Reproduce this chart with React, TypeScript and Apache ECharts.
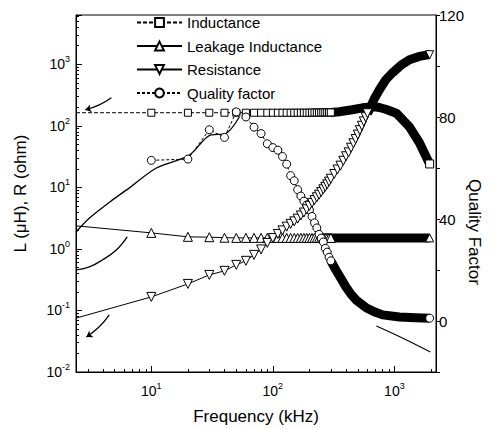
import React, { useEffect, useRef } from 'react';
import * as echarts from 'echarts';

const FONT = '"Liberation Sans", Arial, Helvetica, sans-serif';

// ---------- data (frequency in kHz) ----------
const markFreq = [2.4, 10, 20, 30, 40, 50, 60, 70, 80, 90, 100, 110, 120, 130, 140, 150, 160, 170, 180, 190, 200, 210, 220, 230, 240, 250, 260, 270, 280, 290, 300];

// Inductance (µH)
const indVal = [163, 163, 163, 163, 163, 163, 163, 163, 163, 163, 163, 163, 163, 163, 163, 163, 163, 163, 163, 163, 163, 164, 164, 164, 164, 164, 165, 165, 165, 165, 165];
const indBandFreq = [300, 352, 450, 545, 684, 753, 860, 1038, 1330, 1607, 1950];
const indBandVal = [165, 169, 182, 196, 204, 198, 184, 160, 96, 53, 24];

// Leakage inductance (µH)
const leakVal = [2.37, 1.82, 1.57, 1.55, 1.52, 1.51, 1.51, 1.51, 1.51, 1.51, 1.51, 1.51, 1.51, 1.51, 1.51, 1.51, 1.51, 1.51, 1.51, 1.51, 1.51, 1.51, 1.51, 1.51, 1.51, 1.51, 1.51, 1.51, 1.51, 1.51, 1.51];
const leakBandFreq = [250, 500, 1000, 1950];
const leakBandVal = [1.51, 1.51, 1.51, 1.51];

// Resistance (ohm)
const resFreq = [2.4, 10, 20, 30, 40, 50, 60, 70, 80, 90, 100, 110, 120, 130, 140, 150, 160, 170, 180, 190, 200, 210, 220, 230, 240, 250, 260, 270, 280, 290, 300, 320, 340, 360, 380, 400, 420, 440, 460, 480, 500, 520, 540, 560, 580, 600];
const resVal = [0.075, 0.166, 0.27, 0.378, 0.44, 0.55, 0.64, 0.8, 0.98, 1.25, 1.5, 1.75, 2.0, 2.3, 2.55, 2.8, 3.1, 3.5, 3.9, 4.4, 5.0, 5.6, 6.2, 6.9, 7.6, 8.4, 9.3, 10.2, 11.2, 12.4, 13.8, 16.5, 19.5, 22.5, 27, 32, 37, 44, 52, 61, 72, 85, 100, 118, 138, 160];
const resBandFreq = [600, 622, 680, 753, 850, 964, 1130, 1330, 1600, 1950];
const resBandVal = [160, 182, 270, 385, 560, 727, 960, 1183, 1340, 1430];

// Quality factor
const qFreq = [10, 20, 30, 40, 50, 60, 70, 80, 90, 100, 110, 120, 130, 140, 150, 160, 170, 180, 190, 200, 210, 220, 230, 240, 250, 260, 270, 280, 290, 300];
const qVal = [63, 63.5, 75, 72, 82, 80, 76, 73.5, 69.5, 68, 67, 64.5, 61.5, 57, 55, 51.5, 49, 47, 45.5, 43.5, 41, 38.5, 36.5, 34, 32.5, 31, 28.5, 27, 25, 23.6];
const qBandFreq = [300, 330, 365, 400, 440, 485, 590, 700, 800, 1100, 1500, 1950];
const qBandVal = [23.6, 20, 16.5, 13.3, 10.5, 8.2, 5.1, 3.4, 2.4, 1.6, 1.3, 1.1];

// Quality factor, calculated curve (no markers)
const qFitFreq = [2.4, 3.1, 4.8, 6.6, 11, 20.5, 31, 40, 53];
const qFitVal = [34.9, 40.4, 47.5, 52.2, 60, 65, 73, 73.3, 80];

// annotation arcs / arrows
const arcLFreq = [6.34, 5.15, 3.95, 3.09, 2.42];
const arcLVal = [1.57, 0.96, 0.66, 0.51, 0.456];
const arcQFreq = [711, 1164, 1977];
const arcQVal = [-2, -6.7, -12.2];
const arrowInd = [[4.69, 285], [2.86, 182]];
const arrowRes = [[4.51, 0.0845], [2.92, 0.037]];

// minor tick positions (log axes)
const xMinorTicks = [3, 4, 5, 6, 7, 8, 9, 20, 30, 40, 50, 60, 70, 80, 90, 200, 300, 400, 500, 600, 700, 800, 900, 2000];
const yMinorTicks = [
  0.02, 0.03, 0.04, 0.05, 0.06, 0.07, 0.08, 0.09,
  0.2, 0.3, 0.4, 0.5, 0.6, 0.7, 0.8, 0.9,
  2, 3, 4, 5, 6, 7, 8, 9,
  20, 30, 40, 50, 60, 70, 80, 90,
  200, 300, 400, 500, 600, 700, 800, 900,
  2000, 3000, 4000, 5000, 6000,
];

const legendNames = ['Inductance', 'Leakage Inductance', 'Resistance', 'Quality factor'];

const pair = (f: number[], v: number[]) =>
  f.map((x, i) => (x < 5 ? { value: [x, v[i]], symbol: 'none' } : [x, v[i]]));
const bandData = (f: number[], v: number[], symbol: string) =>
  f.map((x, i) => (i === f.length - 1 ? { value: [x, v[i]], symbol } : { value: [x, v[i]], symbol: 'none' }));

const pow10Label = (v: number) => {
  const l = Math.log10(v);
  const e = Math.round(l);
  if (Math.abs(l - e) > 1e-6) return '';
  return `{b|10}{s|${e}}`;
};
const rich = {
  b: { fontSize: 14, fontFamily: FONT, color: '#000' },
  s: { fontSize: 9, fontFamily: FONT, color: '#000', padding: [0, 0, 10, 0] },
};

export default function App() {
  const ref = useRef<HTMLDivElement>(null);
  useEffect(() => {
    if (!ref.current) return;
    const chart = echarts.init(ref.current, undefined, { renderer: 'svg' });
    const mark = (symbolSize: number) => ({
      symbolSize,
      itemStyle: { color: '#fff', borderColor: '#000', borderWidth: 1 },
    });
    const band = (name: string, f: number[], v: number[], sym: string, yi: number, rot = 0) => ({
      name,
      type: 'line',
      yAxisIndex: yi,
      data: bandData(f, v, sym),
      smooth: false,
      symbolSize: 8,
      symbolRotate: rot,
      itemStyle: { color: '#fff', borderColor: '#000', borderWidth: 1 },
      lineStyle: { color: '#000', width: 9, join: 'round', cap: 'butt' },
      silent: true,
    });
    const minorAxis = (values: number[]) => ({
      show: true,
      axisLine: { show: false, onZero: false },
      axisLabel: { show: false },
      splitLine: { show: false },
      axisTick: { show: true, inside: true, length: 3, customValues: values, lineStyle: { color: '#000' } },
    });
    chart.setOption({
      animation: false,
      textStyle: { fontFamily: FONT },
      grid: {
        left: 76, right: 60, top: 15, bottom: 57,
        outerBoundsMode: 'none',
        containLabel: false,
        show: true, borderColor: '#000', borderWidth: 1, backgroundColor: 'transparent',
      },
      legend: {
        data: legendNames,
        orient: 'vertical',
        left: 136,
        top: 15,
        padding: 0,
        itemWidth: 45,
        itemHeight: 11,
        itemGap: 8.5,
        textStyle: { fontFamily: FONT, fontSize: 15, color: '#000' },
        selectedMode: false,
      },
      xAxis: [
        {
          type: 'log',
          logBase: 10,
          min: 2.4,
          max: 2200,
          position: 'bottom',
          name: 'Frequency (kHz)',
          nameLocation: 'middle',
          nameGap: 36,
          nameMoveOverlap: false,
          nameTextStyle: { fontFamily: FONT, fontSize: 17, color: '#000' },
          axisLine: { onZero: false, lineStyle: { color: '#000', width: 1 } },
          axisTick: { inside: true, length: 6, lineStyle: { color: '#000' } },
          minorTick: { show: false },
          splitLine: { show: false },
          axisLabel: { formatter: pow10Label, rich, margin: 9 },
        },
        {
          type: 'log',
          logBase: 10,
          min: 2.4,
          max: 2200,
          position: 'bottom',
          ...minorAxis(xMinorTicks),
        },
      ],
      yAxis: [
        {
          type: 'log',
          logBase: 10,
          min: 0.01,
          max: 6310,
          position: 'left',
          name: 'L (μH), R (ohm)',
          nameLocation: 'middle',
          nameGap: 47,
          nameMoveOverlap: false,
          nameTextStyle: { fontFamily: FONT, fontSize: 17, color: '#000' },
          axisLine: { onZero: false, lineStyle: { color: '#000', width: 1 } },
          axisTick: { inside: true, length: 6, lineStyle: { color: '#000' } },
          minorTick: { show: false },
          splitLine: { show: false },
          axisLabel: { formatter: pow10Label, rich, margin: 6 },
        },
        {
          type: 'value',
          position: 'right',
          min: -20,
          max: 120,
          interval: 20,
          axisLine: { show: true, onZero: false, lineStyle: { color: '#000', width: 1 } },
          axisTick: { show: true, inside: false, length: 4, lineStyle: { color: '#000' } },
          splitLine: { show: false },
          axisLabel: {
            formatter: (v: number) => (v >= 0 && v % 40 === 0 ? String(v) : ''),
            fontFamily: FONT,
            fontSize: 15,
            color: '#000',
            margin: 3,
          },
        },
        {
          type: 'log',
          logBase: 10,
          min: 0.01,
          max: 6310,
          position: 'left',
          ...minorAxis(yMinorTicks),
        },
      ],
      graphic: [
        {
          type: 'text',
          x: 474,
          y: 232,
          rotation: -Math.PI / 2,
          style: {
            text: 'Quality Factor',
            fontFamily: FONT,
            fontSize: 17,
            fill: '#000',
            textAlign: 'center',
            textVerticalAlign: 'middle',
          },
          silent: true,
        },
      ],
      series: [
        band('indBand', indBandFreq, indBandVal, 'rect', 0),
        band('leakBand', leakBandFreq, leakBandVal, 'triangle', 0),
        band('qBand', qBandFreq, qBandVal, 'circle', 1),
        {
          name: 'Inductance',
          type: 'line',
          yAxisIndex: 0,
          symbol: 'rect',
          ...mark(7),
          lineStyle: { color: '#000', width: 1, type: [4, 2] },
          data: pair(markFreq, indVal),
          silent: true,
        },
        {
          name: 'Leakage Inductance',
          type: 'line',
          yAxisIndex: 0,
          symbol: 'triangle',
          ...mark(9),
          lineStyle: { color: '#000', width: 1 },
          data: pair(markFreq, leakVal),
          silent: true,
        },
        {
          name: 'Quality factor',
          type: 'line',
          yAxisIndex: 1,
          symbol: 'circle',
          ...mark(8),
          lineStyle: { color: '#000', width: 1, type: [3, 2] },
          data: pair(qFreq, qVal),
          silent: true,
        },
        band('resBand', resBandFreq, resBandVal, 'triangle', 0, 180),
        {
          name: 'Resistance',
          type: 'line',
          yAxisIndex: 0,
          symbol: 'triangle',
          symbolRotate: 180,
          ...mark(9),
          lineStyle: { color: '#000', width: 1 },
          data: pair(resFreq, resVal),
          silent: true,
        },
        {
          name: 'qFit',
          type: 'line',
          yAxisIndex: 1,
          symbol: 'none',
          smooth: 0.3,
          lineStyle: { color: '#000', width: 1.3 },
          data: qFitFreq.map((f, i) => [f, qFitVal[i]]),
          silent: true,
        },
        {
          name: 'arcL',
          type: 'line',
          yAxisIndex: 0,
          symbol: 'none',
          smooth: 0.4,
          lineStyle: { color: '#000', width: 1.3 },
          data: arcLFreq.map((f, i) => [f, arcLVal[i]]),
          silent: true,
        },
        {
          name: 'arcQ',
          type: 'line',
          yAxisIndex: 1,
          symbol: 'none',
          smooth: 0.4,
          lineStyle: { color: '#000', width: 1.1 },
          data: arcQFreq.map((f, i) => [f, arcQVal[i]]),
          silent: true,
        },
        {
          name: 'arrows',
          type: 'lines',
          coordinateSystem: 'cartesian2d',
          xAxisIndex: 0,
          yAxisIndex: 0,
          symbol: ['none', 'arrow'],
          symbolSize: 6,
          lineStyle: { color: '#000', width: 1.3, curveness: 0.1, opacity: 1 },
          data: [{ coords: arrowInd }, { coords: arrowRes }],
          silent: true,
        },
      ],
    });
    return () => chart.dispose();
  }, []);
  return (
    <div
      ref={ref}
      style={{ position: 'fixed', left: 0, top: 0, width: 496, height: 429, background: '#fff' }}
    />
  );
}
